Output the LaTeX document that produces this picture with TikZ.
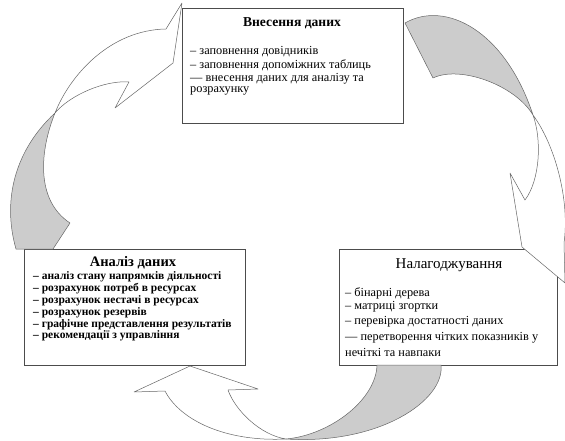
\documentclass[tikz,border=0pt]{standalone}
\usepackage{fontspec}
\setmainfont{Liberation Serif}
\usetikzlibrary{positioning}

\begin{document}
\begin{tikzpicture}[x=1pt,y=-1pt]
  \tikzset{
    box/.style={draw=black!70,line width=0.7pt,fill=white,anchor=north west,inner sep=0},
    arrowline/.style={draw=black!60,line width=0.5pt,line join=round},
    back/.style={arrowline,fill=black!20},
    front/.style={arrowline,fill=white},
    title/.style={font=\bfseries\fontsize{13.6}{15}\selectfont,inner sep=0},
    item/.style={font=\fontsize{12.3}{13}\selectfont,anchor=west,inner sep=0}
  }
  \useasboundingbox (0,0) rectangle (565,441);

  \node[box,minimum width=221pt,minimum height=115pt] (vnesennia) at (182,8) {};
  \node[box,minimum width=221pt,minimum height=116pt] (analiz) at (24,249) {};
  \node[box,minimum width=218pt,minimum height=116pt] (nalag) at (339,249) {};

  \node[title] (vnesennia-t) at (292,23) {Внесення даних};
  \foreach \y/\t in {52/{– заповнення довідників},65/{– заповнення допоміжних таблиць},
                     79/{— внесення даних для аналізу та},91/{розрахунку}}
    \node[item] (vn-\y) at (190,\y) {\t};

  \node[title,font=\bfseries\fontsize{14.5}{15}\selectfont] (analiz-t) at (133,263) {Аналіз даних};
  \foreach \y/\t in {277/{– аналіз стану напрямків діяльності},289/{– розрахунок потреб в ресурсах},
                     301/{– розрахунок нестачі в ресурсах},313/{– розрахунок резервів},
                     325/{– графічне представлення результатів},336/{– рекомендації з управління}}
    \node[item,font=\bfseries\fontsize{11.5}{12}\selectfont] (an-\y) at (33,\y) {\t};

  \node[title,font=\fontsize{15}{16}\selectfont] (nalag-t) at (449,265) {Налагоджування};
  \foreach \y/\t in {293/{– бінарні дерева},307/{– матриці згортки},322/{– перевірка достатності даних},
                     338/{— перетворення чітких показників у},352/{нечіткі та навпаки}}
    \node[item] (na-\y) at (345,\y) {\t};

  \coordinate (t1) at (55,113);
  \coordinate (t2) at (533,115);
  \coordinate (t3) at (286,439);

  \path[back] (16,249) .. controls (2,200) and (15,150) .. (t1)
    .. controls (40,150) and (35,200) .. (70,223) -- (53,249) -- cycle;
  \path[front] (t1) .. controls (70,75) and (110,30) .. (166,29)
    -- (182,3) -- (173,63) -- (115,108) -- (129,82)
    .. controls (105,80) and (70,95) .. (t1) -- cycle;

  \path[back] (405,23) .. controls (445,0) and (505,30) .. (t2)
    .. controls (515,85) and (460,65) .. (433,78) -- cycle;
  \path[front] (t2) .. controls (555,145) and (570,200) .. (564,243)
    -- (565,283) -- (522,247) -- (510,173) -- (525,200)
    .. controls (540,180) and (542,140) .. (t2) -- cycle;

  \path[back] (441,365) .. controls (445,400) and (380,445) .. (t3)
    .. controls (330,435) and (376,400) .. (377,365) -- cycle;
  \path[front] (t3) .. controls (225,442) and (180,420) .. (165,391)
    -- (134,392) -- (190,366) -- (258,389) -- (228,390)
    .. controls (235,410) and (260,435) .. (t3) -- cycle;
\end{tikzpicture}
\end{document}
